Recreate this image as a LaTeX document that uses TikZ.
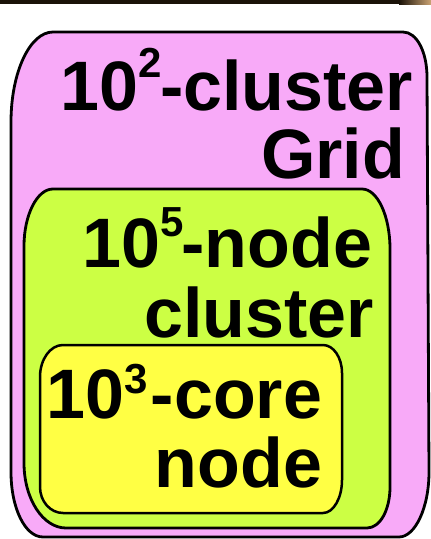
\documentclass[tikz,border=0pt]{standalone}
\usepackage{fontspec}
\setmainfont{Liberation Sans}
\usetikzlibrary{shadings}
\definecolor{gridpink}{HTML}{F8AAF8}
\definecolor{clustergreen}{HTML}{CCFF44}
\definecolor{coreyellow}{HTML}{FFFF44}
\definecolor{bardark}{HTML}{1A1208}
\definecolor{bartan}{HTML}{CCA474}
\newcommand{\supnum}[2]{\raisebox{#2pt}{\fontsize{42}{42}\selectfont\bfseries #1}}
\begin{document}
\begin{tikzpicture}[x=1pt,y=-1pt,
  boxline/.style={draw=black,line width=2.8pt,line join=round},
  label/.style={inner sep=0pt,outer sep=0pt,font=\fontsize{70}{70}\selectfont\bfseries,text=black}]
\useasboundingbox (0,0) rectangle (431,539);
\fill[white] (0,0) rectangle (431,539);
% dark strip along the top edge
\fill[bardark] (0,0) rectangle (400,4);
\shade[left color=bardark,right color=bartan] (399,0) rectangle (431,4);

% outer box: grid
\path[boxline,fill=gridpink]
  (53,32) -- (403,32)
  .. controls (416.8,32) and (427,52) .. (427,77)
  -- (429,472)
  .. controls (429,508) and (415,537) .. (399,537)
  -- (43,537)
  .. controls (25,537) and (11,508) .. (11,472)
  -- (11,122)
  .. controls (11,72) and (30,32) .. (53,32) -- cycle;

% middle box: cluster
\path[boxline,fill=clustergreen]
  (53,189) -- (362,189)
  .. controls (377.5,189) and (390,216) .. (390,249)
  -- (390,487)
  .. controls (390,510) and (380,528) .. (367,528)
  -- (66,528)
  .. controls (43,528) and (24,499) .. (24,463)
  -- (24,246)
  .. controls (24,215) and (37,189) .. (53,189) -- cycle;

% inner box: node
\path[boxline,line width=2.5pt,fill=coreyellow]
  (63,345) -- (323,345)
  .. controls (333.5,345) and (342,357.5) .. (342,373)
  -- (342,480)
  .. controls (342,498) and (333.5,513) .. (323,513)
  -- (63,513)
  .. controls (50.3,513) and (40,501.3) .. (40,487)
  -- (40,377)
  .. controls (40,359.3) and (50.3,345) .. (63,345) -- cycle;

% labels, one node per printed line
\node[label,anchor=base east] (gridA) at (413,110) {10\supnum{2}{33}\kern-2pt-cluster};
\node[label,anchor=base east] (gridB) at (405,178) {Grid};
\node[label,anchor=base east] (clusterA) at (372,267) {10\supnum{5}{31}\kern-2pt-node};
\node[label,anchor=base east] (clusterB) at (374,337) {cluster};
\node[label,anchor=base east] (coreA) at (322,418) {10\supnum{3}{25}\kern3pt-core};
\node[label,anchor=base east] (coreB) at (322,487) {node};
\end{tikzpicture}
\end{document}
